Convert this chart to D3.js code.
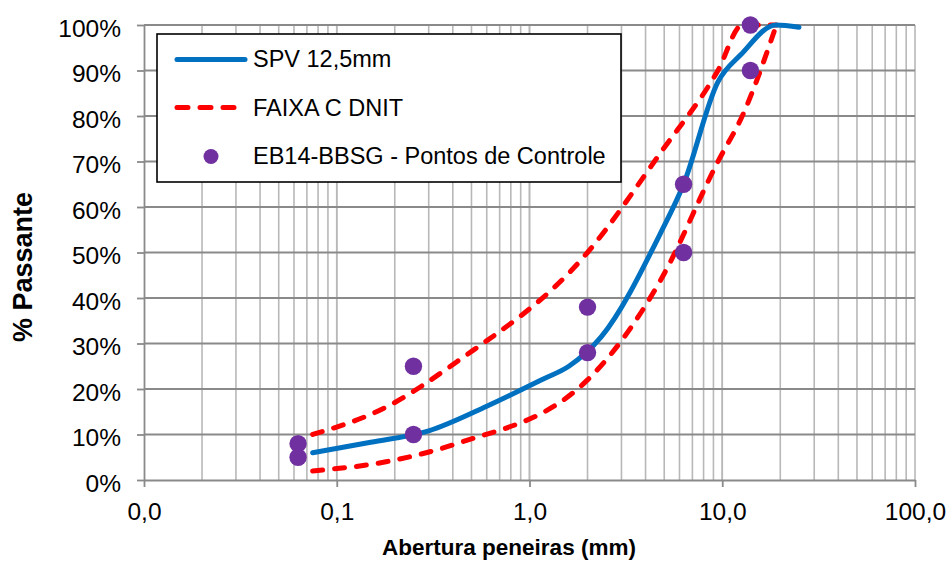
<!DOCTYPE html>
<html>
<head>
<meta charset="utf-8">
<script src="https://cdn.jsdelivr.net/npm/d3@7"></script>
<style>
  body { margin: 0; background: #fff; }
  text { font-family: "Liberation Sans", Arial, sans-serif; fill: #000; }
</style>
</head>
<body>
<script>
// peneiras (mm) e % passante
var spvSizes = [0.075, 0.15, 0.3, 0.6, 1.18, 1.6, 2.36, 4.75, 6.3, 9.5, 12.5, 19, 25];
var spvValues = [6, 8.3, 10.8, 16.2, 22.2, 25, 31.5, 54, 65, 87.5, 93.5, 100, 99.5];

var faixaSizes = [0.075, 0.18, 0.42, 2.0, 4.8, 9.5, 12.7, 19.1];
var faixaMax = [10, 16, 26, 50, 72, 90, 100, 100];
var faixaMin = [2, 4, 8, 22, 44, 70, 80, 100];

var pontosSizes = [0.063, 0.063, 0.25, 0.25, 2, 2, 6.3, 6.3, 14, 14];
var pontosValues = [8, 5, 25, 10, 38, 28, 65, 50, 100, 90];

var xTicks = [0.01, 0.1, 1, 10, 100];
var yTicks = [0, 10, 20, 30, 40, 50, 60, 70, 80, 90, 100];

var legendLabels = ["SPV 12,5mm", "FAIXA C DNIT", "EB14-BBSG - Pontos de Controle"];

var width = 950, height = 573;
var mLeft = 144, mRight = 915, mTop = 25, mBottom = 480;

var svg = d3.select("body")
    .append("svg")
    .attr("width", width)
    .attr("height", height);

var x = d3.scaleLog().domain([0.01, 100]).range([mLeft, mRight]);
var y = d3.scaleLinear().domain([0, 100]).range([mBottom, mTop]);

var br = d3.formatLocale({decimal: ",", thousands: ".", grouping: [3], currency: ["", ""]});
var fmtX = br.format(".1f");

// linhas de grade verticais (escala log)
var minor = [];
for (var k = -2; k < 2; k++) {
    for (var i = 1; i <= 10; i++) {
        var v = i * Math.pow(10, k);
        if (v > 0.01) minor.push(v);
    }
}
svg.append("g").selectAll("line")
    .data(minor)
    .enter().append("line")
    .attr("x1", d => x(d)).attr("x2", d => x(d))
    .attr("y1", mTop).attr("y2", mBottom)
    .attr("stroke", "#b8b8b8")
    .attr("stroke-width", 1.6);

// linhas de grade horizontais
svg.append("g").selectAll("line")
    .data(yTicks.slice(1))
    .enter().append("line")
    .attr("x1", mLeft).attr("x2", mRight)
    .attr("y1", d => y(d)).attr("y2", d => y(d))
    .attr("stroke", "#8a8a8a")
    .attr("stroke-width", 1.8);

// eixos
var xAxis = d3.axisBottom(x).tickValues(xTicks).tickFormat(fmtX).tickSize(7).tickSizeOuter(0);
var gx = svg.append("g").attr("transform", "translate(0," + mBottom + ")").call(xAxis);
gx.select(".domain").attr("stroke", "#8a8a8a").attr("stroke-width", 1.8);
gx.selectAll(".tick line").attr("stroke", "#8a8a8a").attr("stroke-width", 1.8);
gx.selectAll(".tick text")
    .attr("y", 40).attr("dy", null)
    .style("font-size", "24.5px")
    .style("font-family", "Liberation Sans, Arial, sans-serif")
    .attr("fill", "#000");

var yAxis = d3.axisLeft(y).tickValues(yTicks).tickFormat(d => d + "%").tickSize(7).tickSizeOuter(0);
var gy = svg.append("g").attr("transform", "translate(" + mLeft + ",0)").call(yAxis);
gy.select(".domain").attr("stroke", "#8a8a8a").attr("stroke-width", 1.8);
gy.selectAll(".tick line").attr("stroke", "#8a8a8a").attr("stroke-width", 1.8);
gy.selectAll(".tick text")
    .attr("x", -23).attr("dy", "0.45em")
    .style("font-size", "24.5px")
    .style("font-family", "Liberation Sans, Arial, sans-serif")
    .attr("fill", "#000");

// titulos dos eixos
svg.append("text")
    .attr("x", 509).attr("y", 555)
    .attr("text-anchor", "middle")
    .style("font-size", "22.5px")
    .style("font-weight", "bold")
    .text("Abertura peneiras (mm)");

svg.append("text")
    .attr("transform", "translate(32,267) rotate(-90)")
    .attr("text-anchor", "middle")
    .style("font-size", "27px")
    .style("font-weight", "bold")
    .text("% Passante");

// legenda
var lg = svg.append("g");
lg.append("rect")
    .attr("x", 157).attr("y", 34).attr("width", 464).attr("height", 148)
    .attr("fill", "#fff").attr("stroke", "#000").attr("stroke-width", 1.6);
lg.append("line")
    .attr("x1", 177).attr("x2", 245).attr("y1", 59.5).attr("y2", 59.5)
    .attr("stroke", "#0070C0").attr("stroke-width", 5).attr("stroke-linecap", "round");
lg.append("line")
    .attr("x1", 177).attr("x2", 245).attr("y1", 107.5).attr("y2", 107.5)
    .attr("stroke", "#FF0000").attr("stroke-width", 5)
    .attr("stroke-dasharray", "11,12").attr("stroke-linecap", "round");
lg.append("circle")
    .attr("cx", 211).attr("cy", 156.5).attr("r", 7.5)
    .attr("fill", "#7030A0");
lg.selectAll("text")
    .data(legendLabels)
    .enter().append("text")
    .attr("x", 253)
    .attr("y", (d, i) => 67 + i * 48.5)
    .style("font-size", "23.5px")
    .text(d => d);

// series
var line = d3.line()
    .x(d => x(d[0]))
    .y(d => y(d[1]))
    .curve(d3.curveMonotoneX);

function pares(xs, ys) {
    return xs.map((s, i) => [s, ys[i]]);
}

[faixaMax, faixaMin].forEach(function(vals) {
    svg.append("path")
        .attr("d", line(pares(faixaSizes, vals)))
        .attr("fill", "none")
        .attr("stroke", "#FF0000")
        .attr("stroke-width", 5)
        .attr("stroke-dasharray", "10,12")
        .attr("stroke-linecap", "round");
});

svg.append("path")
    .attr("d", line(pares(spvSizes, spvValues)))
    .attr("fill", "none")
    .attr("stroke", "#0070C0")
    .attr("stroke-width", 5)
    .attr("stroke-linecap", "round")
    .attr("stroke-linejoin", "round");

svg.append("g").selectAll("circle")
    .data(pares(pontosSizes, pontosValues))
    .enter().append("circle")
    .attr("cx", d => x(d[0]))
    .attr("cy", d => y(d[1]))
    .attr("r", 8.7)
    .attr("fill", "#7030A0");
</script>
</body>
</html>
